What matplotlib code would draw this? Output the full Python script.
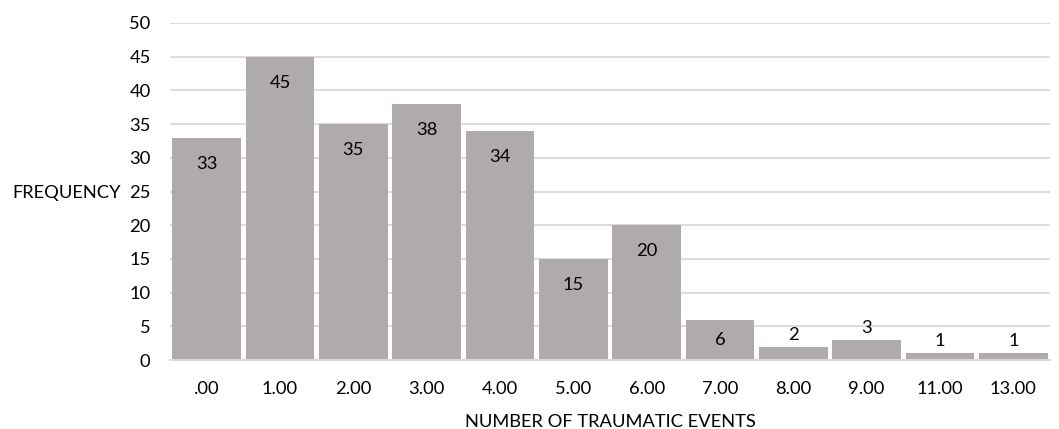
import matplotlib.pyplot as plt
import numpy as np

categories = ['.00', '1.00', '2.00', '3.00', '4.00', '5.00', '6.00', '7.00', '8.00', '9.00', '11.00', '13.00']
counts = [33, 45, 35, 38, 34, 15, 20, 6, 2, 3, 1, 1]

plt.rcParams['font.family'] = ['Lato', 'DejaVu Sans']
fs = 13.2
txt = '#000000'

fig = plt.figure(figsize=(10.59, 4.29), dpi=100)
ax = fig.add_axes([0.1605, 0.1608, 0.831, 0.7856])

x = np.arange(len(categories))
bars = ax.bar(x, counts, width=0.94, color='#AFABAB', zorder=2)

ax.set_xlim(-0.5, len(categories) - 0.5)
ax.set_ylim(0, 50)
ax.set_yticks(np.arange(0, 51, 5))
ax.set_xticks(x)
ax.set_xticklabels(categories)
ax.yaxis.grid(True, color='#D9D9D9', linewidth=1.3, zorder=0)
ax.set_axisbelow(True)
for s in ['top', 'right', 'left']:
    ax.spines[s].set_visible(False)
ax.spines['bottom'].set_color('#D9D9D9')
ax.spines['bottom'].set_linewidth(1.5)
ax.tick_params(axis='both', length=0, labelsize=fs, colors=txt)
ax.tick_params(axis='y', pad=14)
ax.tick_params(axis='x', pad=15)

# value labels: inside the top of tall bars, middle of medium, just above short ones
px_per_unit = 337 / 50
for b, v in zip(bars, counts):
    h = v * px_per_unit
    if h >= 46:
        off = -26
    elif h >= 25:
        off = -h / 2
    else:
        off = 12
    ax.annotate(str(v), (b.get_x() + b.get_width() / 2, v), xytext=(0, off * 0.72),
                textcoords='offset points', ha='center', va='center', fontsize=fs,
                color=txt, zorder=3)

ax.set_xlabel('NUMBER OF TRAUMATIC EVENTS', fontsize=fs, color=txt, labelpad=12)
fig.text(12 / 1059, 1 - 193 / 429, 'FREQUENCY', fontsize=fs, color=txt,
         ha='left', va='center')

fig.savefig('out.png', dpi=100)
